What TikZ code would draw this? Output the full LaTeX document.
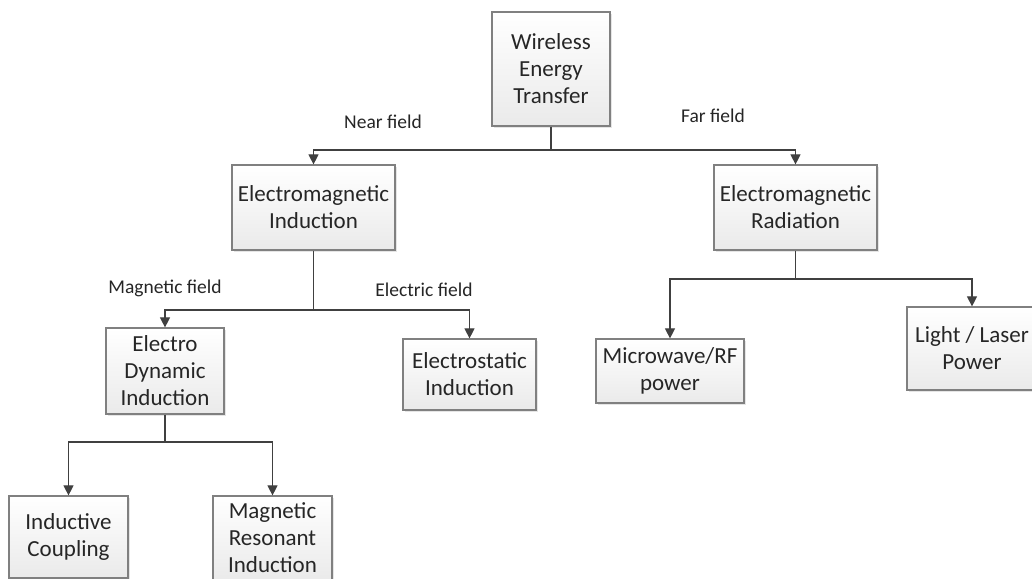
\documentclass[tikz,border=0pt]{standalone}
\usepackage{fontspec}
\setmainfont{Carlito}
\usetikzlibrary{arrows.meta,shadows}
\definecolor{linec}{HTML}{404040}
\definecolor{boxline}{HTML}{808080}
\definecolor{txt}{HTML}{262626}
\definecolor{boxbot}{HTML}{EAEAEA}
\begin{document}
\begin{tikzpicture}[x=1pt,y=-1pt,
  box/.style={draw=boxline, line width=1.2pt, top color=white, bottom color=boxbot,
    drop shadow={opacity=0.2, shadow xshift=2pt, shadow yshift=-2pt},
    align=center, inner sep=1pt, text=txt,
    font=\fontsize{23}{27}\selectfont},
  lbl/.style={text=txt, inner sep=0pt, font=\fontsize{19.5}{23}\selectfont},
  conn/.style={draw=linec, line width=1.1pt},
  arr/.style={conn, -{Triangle[width=10pt,length=10pt]}}]
\useasboundingbox[fill=white] (0,0) rectangle (1032,578);
\node[box, minimum width=118, minimum height=114] (wet) at (551,69) {Wireless\\Energy\\Transfer};
\node[box, minimum width=163, minimum height=85] (emi) at (313.5,207.5) {Electromagnetic\\Induction};
\node[box, minimum width=163, minimum height=85] (emr) at (795.5,207.5) {Electromagnetic\\Radiation};
\node[box, minimum width=118, minimum height=86] (edi) at (165,371) {Electro\\Dynamic\\Induction};
\node[box, minimum width=133, minimum height=71] (est) at (469.5,374.5) {Electrostatic\\Induction};
\node[box, minimum width=148, minimum height=64] (mw) at (670,371) {Microwave/RF\\power};
\node[box, minimum width=130, minimum height=83] (lgt) at (972,348.5) {Light / Laser\\Power};
\node[box, minimum width=119, minimum height=82] (ind) at (68.5,537) {Inductive\\Coupling};
\node[box, minimum width=119, minimum height=84] (mri) at (272.5,538) {Magnetic\\Resonant\\Induction};

\coordinate (j1) at (551,150);
\coordinate (j2) at (313.5,310);
\coordinate (j3) at (795.5,279);
\coordinate (j4) at (165,442);
\draw[conn] (wet.south) -- (j1);
\draw[arr] (j1) -| (emi.north);
\draw[arr] (j1) -| (emr.north);
\draw[conn] (emi.south) -- (j2);
\draw[arr] (j2) -| (edi.north);
\draw[arr] (j2) -| (est.north);
\draw[conn] (emr.south) -- (j3);
\draw[arr] (j3) -| (mw.north);
\draw[arr] (j3) -| (lgt.north);
\draw[conn] (edi.south) -- (j4);
\draw[arr] (j4) -| (ind.north);
\draw[arr] (j4) -| (mri.north);

\node[lbl] (nf) at (383,122) {Near field};
\node[lbl] (ff) at (713,116) {Far field};
\node[lbl] (mf) at (165,288) {Magnetic field};
\node[lbl] (ef) at (424,290) {Electric field};
\end{tikzpicture}
\end{document}
